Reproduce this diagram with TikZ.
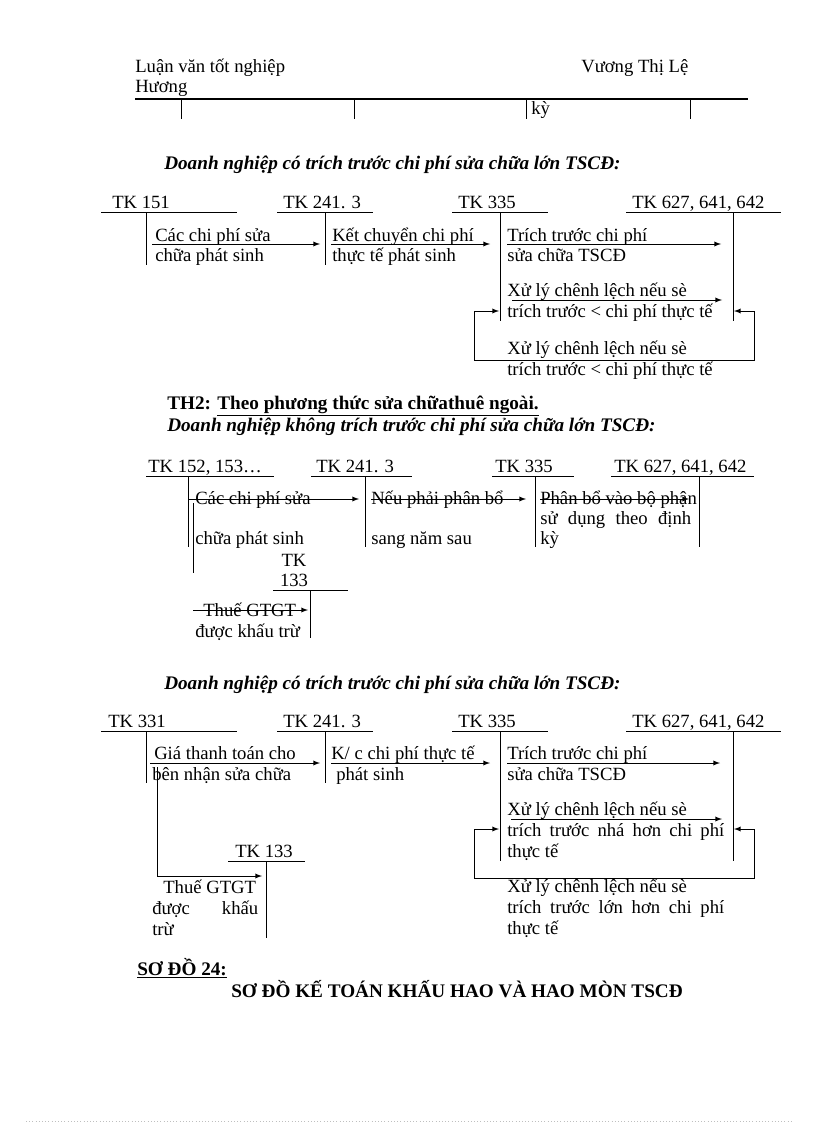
\documentclass[tikz,border=0pt]{standalone}
\usepackage{fontspec}
\setmainfont{Liberation Serif}
\usetikzlibrary{arrows,calc}

\begin{document}
\begin{tikzpicture}
		[   x=0.75pt,y=-0.75pt,
		    txt/.style={anchor=base west,inner sep=0pt,font=\fontsize{14pt}{16pt}\selectfont},
		    head/.style={txt,font=\fontsize{14.4pt}{16pt}\selectfont\bfseries\itshape},
		    title/.style={txt,font=\fontsize{14.4pt}{16pt}\selectfont\bfseries},
		]
		\tikzset{tline/.style={draw,line width=0.75pt}}
		\tikzset{post arrow/.style={draw,line width=0.75pt,-latex}}
		\useasboundingbox (0,0) rectangle (816,1123);
		
		% page header
		\node[txt] (thesis) at (135,73) {Luận văn tốt nghiệp};
		\node[txt] (author) at (581,73) {Vương Thị Lệ};
		\node[txt] (author-2) at (135,93) {Hương};
		\draw[line width=1.5pt] (135,99) -- (748,99);
		\foreach \x in {181,354,526,690}
		{
			\draw[tline] (\x,100) -- (\x,119);
		}
		\node[txt] (ky-0) at (531,115) {kỳ};
		
		% TH1
		\node[head] (sec-1) at (164,170) {Doanh nghiệp có trích trước chi phí sửa chữa lớn TSCĐ:};
		
		\node[txt] (tk151) at (112,209) {TK 151};
		\node[txt] (tk2413-1) at (283,209) {TK 241. 3};
		\node[txt] (tk335-1) at (458,209) {TK 335};
		\node[txt] (tk627-1) at (632,209) {TK 627, 641, 642};
		
		\draw[tline] (101,213) -- (237,213) (146,213) coordinate (a-1) -- (146,265);
		\draw[tline] (277,213) -- (373,213) (325,213) coordinate (b-1) -- (325,265);
		\draw[tline] (452,213) -- (548,213) (500,213) coordinate (c-1) -- (500,321);
		\draw[tline] (626,213) -- (781,213) (733,213) coordinate (d-1) -- (733,321);
		
		\node[txt] (t-1) at (155,241) {Các chi phí sửa};
		\node[txt] (t-2) at (155,262) {chữa phát sinh};
		\node[txt] (t-3) at (332,241) {Kết chuyển chi phí};
		\node[txt] (t-4) at (332,262) {thực tế phát sinh};
		\node[txt] (t-5) at (507,241) {Trích trước chi phí};
		\node[txt] (t-6) at (507,262) {sửa chữa TSCĐ};
		\node[txt] (t-7) at (507,296) {Xử lý chênh lệch nếu sè};
		\node[txt] (t-8) at (507,317) {trích trước < chi phí thực tế};
		\node[txt] (t-9) at (507,354) {Xử lý chênh lệch nếu sè};
		\node[txt] (t-10) at (507,375) {trích trước < chi phí thực tế};
		
		\coordinate (r-1) at (0,244);
		\coordinate (r-2) at (0,300);
		\coordinate (r-3) at (0,311);
		\path[post arrow] ($(a-1 |- r-1)+(6,0)$) -- ($(b-1 |- r-1)+(-5,0)$);
		\path[post arrow] ($(b-1 |- r-1)+(6,0)$) -- ($(c-1 |- r-1)+(-10,0)$);
		\path[post arrow] ($(c-1 |- r-1)+(7,0)$) -- ($(d-1 |- r-1)+(-12,0)$);
		\path[post arrow] ($(c-1 |- r-2)+(12,0)$) -- ($(d-1 |- r-2)+(-11,0)$);
		
		\coordinate (loop-l1) at (474,311);
		\coordinate (loop-r1) at (754,311);
		\path[post arrow] (loop-l1) -- ($(c-1 |- r-3)+(-1,0)$);
		\path[post arrow] (loop-r1) -- ($(d-1 |- r-3)+(1,0)$);
		\draw[tline] (loop-l1) -- ++(0,49) -| (loop-r1);
		
		% TH2
		\node[title] (sec-2) at (167,409) {TH2: \underline{Theo phương thức sửa chữathuê ngoài.}};
		\node[head] (sec-3) at (167,431) {Doanh nghiệp không trích trước chi phí sửa chữa lớn TSCĐ:};
		
		\node[txt] (tk152) at (148,472) {TK 152, 153…};
		\node[txt] (tk2413-2) at (316,472) {TK 241. 3};
		\node[txt] (tk335-2) at (495,472) {TK 335};
		\node[txt] (tk627-2) at (614,472) {TK 627, 641, 642};
		
		\draw[tline] (146,476) -- (274,476) (188,476) coordinate (a-2) -- (188,547);
		\draw[tline] (193,503) -- (193,573);
		\draw[tline] (311,476) -- (412,476) (365,476) coordinate (b-2) -- (365,547);
		\draw[tline] (492,476) -- (574,476) (535,476) coordinate (c-2) -- (535,547);
		\draw[tline] (611,476) -- (754,476) (699,476) coordinate (d-2) -- (699,547);
		
		\node[txt] (u-1) at (195,504) {Các chi phí sửa};
		\node[txt] (u-2) at (195,544) {chữa phát sinh};
		\node[txt] (u-3) at (371,504) {Nếu phải phân bổ};
		\node[txt] (u-4) at (371,544) {sang năm sau};
		\node[txt] (u-5) at (540,504) {Phân bổ vào bộ phận};
		\node[txt] (u-6) at (540,524) {\makebox[113.25pt][s]{sử dụng theo định}};
		\node[txt] (u-7) at (540,544) {kỳ};
		
		\coordinate (r-4) at (0,499);
		\path[post arrow] (a-2 |- r-4) -- ($(b-2 |- r-4)+(-6,0)$);
		\path[post arrow] ($(b-2 |- r-4)+(6,0)$) -- ($(c-2 |- r-4)+(-9,0)$);
		\path[post arrow] ($(c-2 |- r-4)+(5,0)$) -- ($(d-2 |- r-4)+(-10,0)$);
		
		\node[txt,anchor=base] (tk133-1) at (294,566) {TK};
		\node[txt,anchor=base] (tk133-2) at (294,586) {133};
		\draw[tline] (273,590) -- (348,590) (310,590) coordinate (e-2) -- (310,638);
		\node[txt] (u-8) at (203,616) {Thuế GTGT};
		\node[txt] (u-9) at (195,637) {được khấu trừ};
		\coordinate (r-5) at (193,610);
		\path[post arrow] (r-5) -- ($(e-2 |- r-5)+(-2,0)$);
		
		% TH2, co trich truoc
		\node[head] (sec-4) at (164,689) {Doanh nghiệp có trích trước chi phí sửa chữa lớn TSCĐ:};
		
		\node[txt] (tk331) at (108,727) {TK 331};
		\node[txt] (tk2413-3) at (283,727) {TK 241. 3};
		\node[txt] (tk335-3) at (458,727) {TK 335};
		\node[txt] (tk627-3) at (632,727) {TK 627, 641, 642};
		
		\draw[tline] (101,731) -- (237,731) (146,731) coordinate (a-3) -- (146,783);
		\draw[tline] (277,731) -- (373,731) (325,731) coordinate (b-3) -- (325,783);
		\draw[tline] (452,731) -- (548,731) (500,731) coordinate (c-3) -- (500,861);
		\draw[tline] (626,731) -- (781,731) (733,731) coordinate (d-3) -- (733,861);
		
		\node[txt] (v-1) at (154,759) {Giá thanh toán cho};
		\node[txt] (v-2) at (152,780) {bên nhận sửa chữa};
		\node[txt] (v-3) at (331,759) {K/ c chi phí thực tế};
		\node[txt] (v-4) at (336,780) {phát sinh};
		\node[txt] (v-5) at (507,759) {Trích trước chi phí};
		\node[txt] (v-6) at (507,780) {sửa chữa TSCĐ};
		\node[txt] (v-7) at (507,815) {Xử lý chênh lệch nếu sè};
		\node[txt] (v-8) at (507,836) {\makebox[162.75pt][s]{trích trước nhá hơn chi phí}};
		\node[txt] (v-9) at (507,857) {thực tế};
		\node[txt] (v-10) at (507,892) {Xử lý chênh lệch nếu sè};
		\node[txt] (v-11) at (507,913) {\makebox[162.75pt][s]{trích trước lớn hơn chi phí}};
		\node[txt] (v-12) at (507,934) {thực tế};
		
		\coordinate (r-6) at (0,763);
		\coordinate (r-7) at (0,819);
		\coordinate (r-8) at (0,829);
		\path[post arrow] ($(a-3 |- r-6)+(4,0)$) -- ($(b-3 |- r-6)+(-5,0)$);
		\path[post arrow] ($(b-3 |- r-6)+(6,0)$) -- ($(c-3 |- r-6)+(-10,0)$);
		\path[post arrow] ($(c-3 |- r-6)+(7,0)$) -- ($(d-3 |- r-6)+(-13,0)$);
		\path[post arrow] ($(c-3 |- r-7)+(11,0)$) -- ($(d-3 |- r-7)+(-11,0)$);
		
		\coordinate (loop-l3) at (474,829);
		\coordinate (loop-r3) at (754,829);
		\path[post arrow] (loop-l3) -- ($(c-3 |- r-8)+(-1,0)$);
		\path[post arrow] (loop-r3) -- ($(d-3 |- r-8)+(1,0)$);
		\draw[tline] (loop-l3) -- ++(0,49) -| (loop-r3);
		
		\node[txt] (tk133-3) at (235,857) {TK 133};
		\draw[tline] (228,861) -- (305,861) (266,861) coordinate (e-3) -- (266,938);
		\node[txt] (v-13) at (163,893) {Thuế GTGT};
		\node[txt] (v-14) at (152,914) {\makebox[79.5pt][s]{được khấu}};
		\node[txt] (v-15) at (152,935) {trừ};
		\coordinate (branch) at (157,767);
		\path[post arrow] (branch) |- ($(e-3)+(-4,15)$);
		
		% so do 24
		\node[title] (sd24) at (137,975) {\underline{SƠ ĐỒ 24:}};
		\node[title] (sd24-title) at (231,997) {SƠ ĐỒ KẾ TOÁN KHẤU HAO VÀ HAO MÒN TSCĐ};
		
		\draw[gray!50,dotted] (26,1121) -- (791,1121);
		
\end{tikzpicture}
\end{document}
